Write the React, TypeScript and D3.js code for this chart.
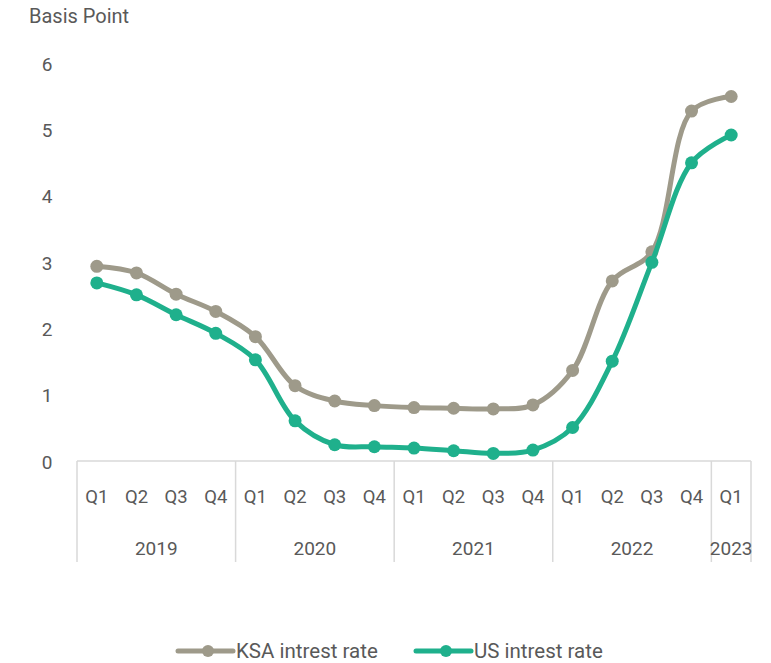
import React from "react";
import * as d3 from "d3";

const quarters = ["Q1", "Q2", "Q3", "Q4", "Q1", "Q2", "Q3", "Q4", "Q1", "Q2", "Q3", "Q4", "Q1", "Q2", "Q3", "Q4", "Q1"];
const years = [
  { label: "2019", count: 4 },
  { label: "2020", count: 4 },
  { label: "2021", count: 4 },
  { label: "2022", count: 4 },
  { label: "2023", count: 1 },
];
const ksaRate = [2.95, 2.85, 2.53, 2.27, 1.89, 1.15, 0.92, 0.85, 0.82, 0.81, 0.8, 0.86, 1.38, 2.73, 3.17, 5.29, 5.51];
const usRate = [2.7, 2.52, 2.22, 1.94, 1.54, 0.62, 0.26, 0.23, 0.21, 0.17, 0.13, 0.18, 0.52, 1.52, 3.01, 4.51, 4.93];
const yTicks = [0, 1, 2, 3, 4, 5, 6];

const W = 771;
const H = 663;
const left = 77;
const right = 751;
const top = 64;
const bottom = 461;
const FONT = "Roboto, 'DejaVu Sans', sans-serif";
const TEXT = "#595959";
const AXIS = "#d9d9d9";
const KSA = "#9e9a8a";
const US = "#1fb08c";

export default function App() {
  const x = d3
    .scaleBand<number>()
    .domain(d3.range(quarters.length))
    .range([left, right]);
  const y = d3.scaleLinear().domain([0, 6]).range([bottom + 1, top]);
  const cx = (i: number) => (x(i) as number) + x.bandwidth() / 2;

  const line = d3
    .line<number>()
    .x((_, i) => cx(i))
    .y((d) => y(d))
    .curve(d3.curveCatmullRom.alpha(0.5));

  const series = [
    { name: "KSA intrest rate", values: ksaRate, color: KSA },
    { name: "US intrest rate", values: usRate, color: US },
  ];

  // year group boundaries
  const bounds: number[] = [left];
  let acc = 0;
  years.forEach((yr) => {
    acc += yr.count;
    bounds.push(acc < quarters.length ? (x(acc) as number) : right);
  });

  const legend = [
    { name: series[0].name, color: KSA, x0: 178 },
    { name: series[1].name, color: US, x0: 416 },
  ];

  return (
    <svg
      width={W}
      height={H}
      style={{ position: "absolute", left: 0, top: 0, background: "#fff" }}
      fontFamily={FONT}
    >
      <text x={29} y={23} fontSize={20} fill={TEXT}>
        Basis Point
      </text>
      {yTicks.map((t) => (
        <text key={t} x={47} y={y(t)} dy="0.35em" textAnchor="middle" fontSize={19} fill={TEXT}>
          {t}
        </text>
      ))}

      {/* category axis */}
      <line x1={left} x2={right} y1={bottom} y2={bottom} stroke={AXIS} strokeWidth={1.5} />
      {bounds.map((b, i) => (
        <line key={i} x1={b} x2={b} y1={bottom} y2={562} stroke={AXIS} strokeWidth={1.5} />
      ))}
      {quarters.map((q, i) => (
        <text key={i} x={cx(i)} y={497} dy="0.35em" textAnchor="middle" fontSize={18.5} fill={TEXT}>
          {q}
        </text>
      ))}
      {years.map((yr, i) => (
        <text
          key={yr.label}
          x={(bounds[i] + bounds[i + 1]) / 2}
          y={548}
          dy="0.35em"
          textAnchor="middle"
          fontSize={19}
          fill={TEXT}
        >
          {yr.label}
        </text>
      ))}

      {series.map((s) => (
        <g key={s.name}>
          <path d={line(s.values) || ""} fill="none" stroke={s.color} strokeWidth={5} />
          {s.values.map((v, i) => (
            <circle key={i} cx={cx(i)} cy={y(v)} r={6.5} fill={s.color} />
          ))}
        </g>
      ))}

      {legend.map((l) => (
        <g key={l.name}>
          <line x1={l.x0} x2={l.x0 + 55} y1={651} y2={651} stroke={l.color} strokeWidth={5} strokeLinecap="round" />
          <circle cx={l.x0 + 30} cy={651} r={6} fill={l.color} />
          <text x={l.x0 + 58} y={651} dy="0.35em" fontSize={20.5} fill={TEXT}>
            {l.name}
          </text>
        </g>
      ))}
    </svg>
  );
}
